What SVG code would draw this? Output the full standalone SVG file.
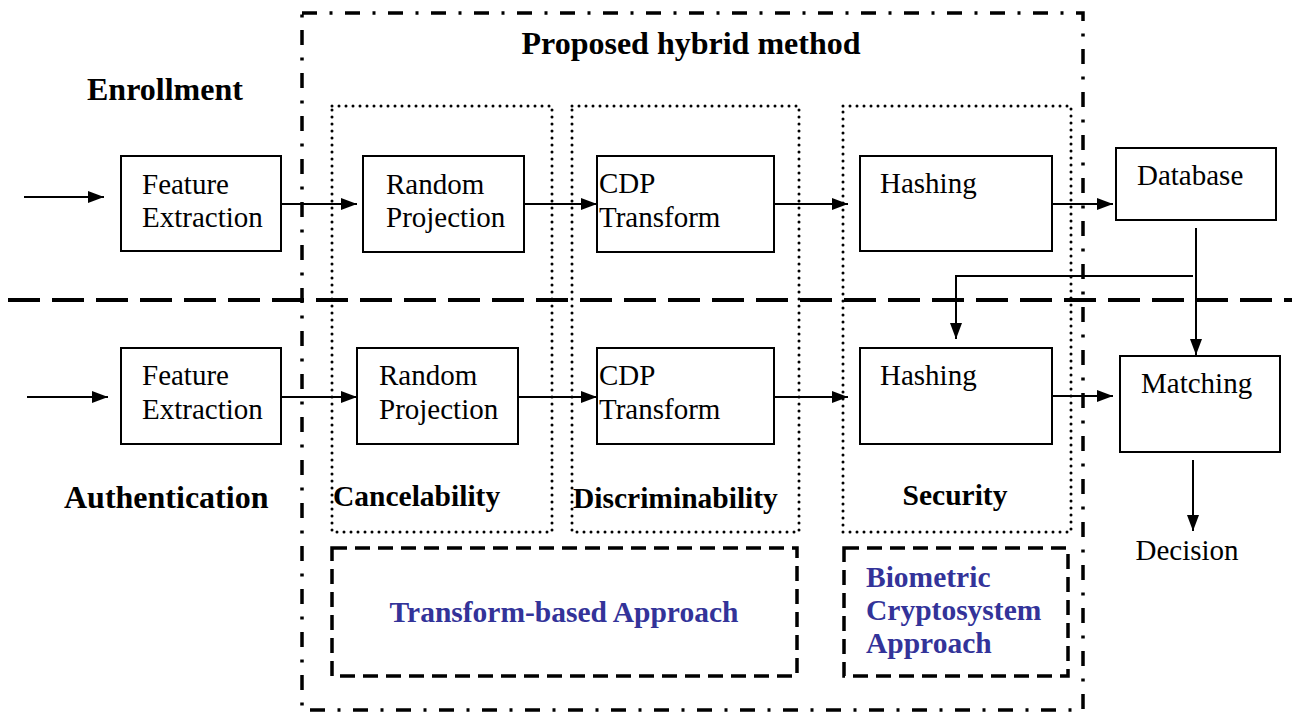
<svg xmlns="http://www.w3.org/2000/svg" width="1292" height="715" viewBox="0 0 1292 715">
  <style>
    .box { fill: #fff; stroke: #000; stroke-width: 2; }
    .txt { font-family: "Liberation Serif", "Times New Roman", serif; font-size: 29px; fill: #000; }
    .lbl { font-family: "Liberation Serif", "Times New Roman", serif; font-size: 29.5px; font-weight: bold; fill: #000; }
    .big { font-family: "Liberation Serif", "Times New Roman", serif; font-size: 32px; font-weight: bold; fill: #000; }
    .blue { font-family: "Liberation Serif", "Times New Roman", serif; font-size: 29.5px; font-weight: bold; fill: #333399; }
    .dotted { fill: none; stroke: #000; stroke-width: 3; stroke-linecap: round; stroke-dasharray: 0 7; }
    .dashed { fill: none; stroke: #000; stroke-width: 3.5; stroke-dasharray: 15 8; }
    .dashdot { fill: none; stroke: #000; stroke-width: 3.5; stroke-dasharray: 15 12.5 3 12.5; }
    .sep { fill: none; stroke: #000; stroke-width: 4; stroke-dasharray: 32 12; }
    .conn { fill: none; stroke: #000; stroke-width: 2; }
  </style>
  <defs>
    <marker id="arrow" viewBox="0 0 16 12" refX="16" refY="6" markerWidth="16" markerHeight="12" markerUnits="userSpaceOnUse" orient="auto">
      <path d="M0,0 L16,6 L0,12 z" fill="#000"/>
    </marker>
  </defs>

  <rect width="1292" height="715" fill="#fff"/>

  <!-- frame of the proposed method -->
  <g id="proposed-frame">
    <rect class="dashdot" x="302" y="13" width="781" height="697"/>
    <text class="big" x="691" y="54" text-anchor="middle">Proposed hybrid method</text>
  </g>

  <!-- property regions -->
  <g id="cancelability-region">
    <rect class="dotted" x="332" y="106" width="220" height="426"/>
    <text class="lbl" x="333" y="506">Cancelability</text>
  </g>
  <g id="discriminability-region">
    <rect class="dotted" x="572" y="106" width="227" height="426"/>
    <text class="lbl" x="573" y="508">Discriminability</text>
  </g>
  <g id="security-region">
    <rect class="dotted" x="843" y="106" width="228" height="426"/>
    <text class="lbl" x="955" y="505" text-anchor="middle">Security</text>
  </g>

  <!-- approach regions -->
  <g id="transform-approach">
    <rect class="dashed" x="332" y="548" width="465" height="128"/>
    <text class="blue" x="564" y="622" text-anchor="middle">Transform-based Approach</text>
  </g>
  <g id="crypto-approach">
    <rect class="dashed" x="844" y="548" width="224" height="128"/>
    <text class="blue" x="866" y="587">Biometric</text>
    <text class="blue" x="866" y="620">Cryptosystem</text>
    <text class="blue" x="866" y="653">Approach</text>
  </g>

  <!-- phase labels -->
  <g id="phase-labels">
    <text class="big" x="87" y="100">Enrollment</text>
    <text class="big" x="64" y="508">Authentication</text>
  </g>

  <!-- enrollment / authentication divider -->
  <line class="sep" x1="8" y1="300" x2="1292" y2="300"/>

  <!-- enrollment row -->
  <g id="fe-enroll">
    <rect class="box" x="121" y="156" width="160" height="95"/>
    <text class="txt" x="142" y="194">Feature</text>
    <text class="txt" x="142" y="227">Extraction</text>
  </g>
  <g id="rp-enroll">
    <rect class="box" x="363" y="156" width="161" height="96"/>
    <text class="txt" x="386" y="194">Random</text>
    <text class="txt" x="386" y="227">Projection</text>
  </g>
  <g id="cdp-enroll">
    <rect class="box" x="597" y="156" width="177" height="96"/>
    <text class="txt" x="599" y="193">CDP</text>
    <text class="txt" x="599" y="227">Transform</text>
  </g>
  <g id="hash-enroll">
    <rect class="box" x="860" y="156" width="192" height="95"/>
    <text class="txt" x="880" y="193">Hashing</text>
  </g>
  <g id="database">
    <rect class="box" x="1116" y="148" width="160" height="72"/>
    <text class="txt" x="1137" y="185">Database</text>
  </g>

  <!-- authentication row -->
  <g id="fe-auth">
    <rect class="box" x="121" y="348" width="160" height="96"/>
    <text class="txt" x="142" y="385">Feature</text>
    <text class="txt" x="142" y="419">Extraction</text>
  </g>
  <g id="rp-auth">
    <rect class="box" x="357" y="348" width="161" height="96"/>
    <text class="txt" x="379" y="385">Random</text>
    <text class="txt" x="379" y="419">Projection</text>
  </g>
  <g id="cdp-auth">
    <rect class="box" x="597" y="348" width="177" height="96"/>
    <text class="txt" x="599" y="385">CDP</text>
    <text class="txt" x="599" y="419">Transform</text>
  </g>
  <g id="hash-auth">
    <rect class="box" x="860" y="348" width="192" height="96"/>
    <text class="txt" x="880" y="385">Hashing</text>
  </g>
  <g id="matching">
    <rect class="box" x="1120" y="356" width="160" height="96"/>
    <text class="txt" x="1141" y="393">Matching</text>
  </g>
  <g id="decision">
    <text class="txt" x="1187" y="560" text-anchor="middle">Decision</text>
  </g>

  <!-- connectors -->
  <g id="connectors">
    <line class="conn" x1="24" y1="197" x2="104" y2="197" marker-end="url(#arrow)"/>
    <line class="conn" x1="281" y1="204" x2="357" y2="204" marker-end="url(#arrow)"/>
    <line class="conn" x1="524" y1="204" x2="597" y2="204" marker-end="url(#arrow)"/>
    <line class="conn" x1="774" y1="204" x2="848" y2="204" marker-end="url(#arrow)"/>
    <line class="conn" x1="1052" y1="204" x2="1113" y2="204" marker-end="url(#arrow)"/>

    <line class="conn" x1="27" y1="397" x2="108" y2="397" marker-end="url(#arrow)"/>
    <line class="conn" x1="281" y1="397" x2="357" y2="397" marker-end="url(#arrow)"/>
    <line class="conn" x1="518" y1="397" x2="597" y2="397" marker-end="url(#arrow)"/>
    <line class="conn" x1="774" y1="397" x2="848" y2="397" marker-end="url(#arrow)"/>
    <line class="conn" x1="1052" y1="396" x2="1113" y2="396" marker-end="url(#arrow)"/>

    <line class="conn" x1="1196" y1="228" x2="1196" y2="355" marker-end="url(#arrow)"/>
    <polyline class="conn" points="1193,276 956,276 956,339" marker-end="url(#arrow)"/>
    <line class="conn" x1="1193" y1="460" x2="1193" y2="531" marker-end="url(#arrow)"/>
  </g>
</svg>
